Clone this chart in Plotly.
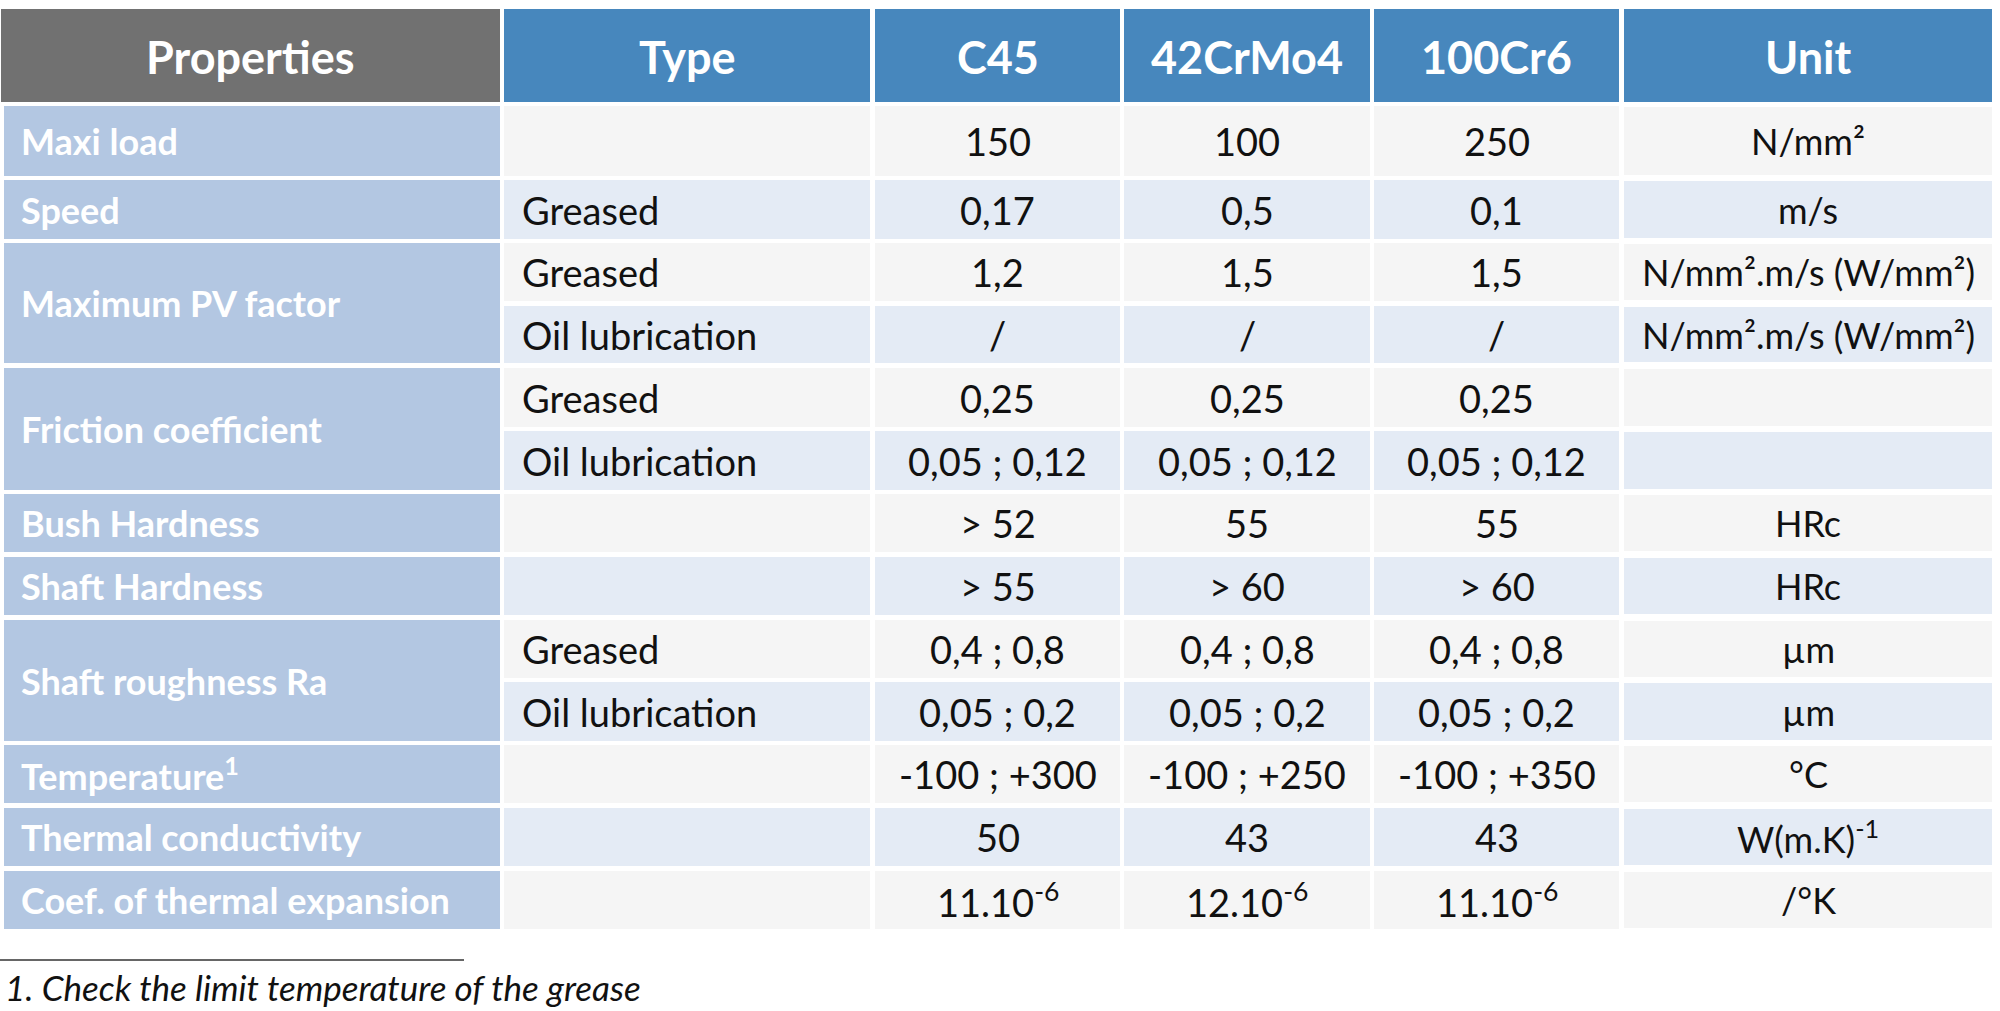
import plotly.graph_objects as go

# ---------------- data ----------------
headers = ["Properties", "Type", "C45", "42CrMo4", "100Cr6", "Unit"]
properties = ["Maxi load", "Speed", "Maximum PV factor", "Friction coefficient",
              "Bush Hardness", "Shaft Hardness", "Shaft roughness Ra",
              "Temperature<sup>1</sup>", "Thermal conductivity", "Coef. of thermal expansion"]
types = [[""], ["Greased"], ["Greased", "Oil lubrication"], ["Greased", "Oil lubrication"],
         [""], [""], ["Greased", "Oil lubrication"], [""], [""], [""]]
c45 = ["150", "0,17", "1,2", "/", "0,25", "0,05 ; 0,12", "> 52", "> 55",
       "0,4 ; 0,8", "0,05 ; 0,2", "-100 ; +300", "50", "11.10<sup>-6</sup>"]
crmo4 = ["100", "0,5", "1,5", "/", "0,25", "0,05 ; 0,12", "55", "> 60",
         "0,4 ; 0,8", "0,05 ; 0,2", "-100 ; +250", "43", "12.10<sup>-6</sup>"]
cr6 = ["250", "0,1", "1,5", "/", "0,25", "0,05 ; 0,12", "55", "> 60",
       "0,4 ; 0,8", "0,05 ; 0,2", "-100 ; +350", "43", "11.10<sup>-6</sup>"]
units = ["N/mm²", "m/s", "N/mm².m/s (W/mm²)", "N/mm².m/s (W/mm²)", "", "", "HRc", "HRc",
         "µm", "µm", "°C", "W(m.K)<sup>-1</sup>", "/°K"]
footnote = "1. Check the limit temperature of the grease"

# ---------------- layout geometry ----------------
W, H = 2000, 1011
col_edges = [(1, 500), (504, 870), (875, 1120), (1124, 1370), (1374, 1619), (1624, 1992)]
header_y = (9, 102)
row_edges = [(106, 176), (180, 239), (243, 301), (306, 363), (368, 427), (431, 490),
             (494, 552), (557, 615), (620, 678), (682, 741), (745, 803), (808, 866), (871, 929)]

FONT = "Lato"
C_HEAD_GRAY = "#717171"
C_HEAD_BLUE = "#4787BD"
C_PROP = "#B3C7E2"
C_ROW_A = "#F5F5F5"
C_ROW_B = "#E4EBF5"
C_TEXT = "#111111"

fig = go.Figure()
shapes = []
annotations = []


def rect(x0, x1, y0, y1, color):
    shapes.append(dict(type="rect", xref="x", yref="y", x0=x0, x1=x1, y0=y0, y1=y1,
                       fillcolor=color, line=dict(width=0), layer="below"))


def text(x, y, s, size, color, bold=False, anchor="center", style="normal"):
    annotations.append(dict(xref="x", yref="y", x=x, y=y, text=s,
                            showarrow=False, xanchor=anchor, yanchor="middle",
                            font=dict(family=FONT, size=size, color=color,
                                      weight="bold" if bold else "normal", style=style)))


# header
for i, h in enumerate(headers):
    x0, x1 = col_edges[i]
    rect(x0, x1, header_y[0], header_y[1], C_HEAD_GRAY if i == 0 else C_HEAD_BLUE)
    text((x0 + x1) / 2, (header_y[0] + header_y[1]) / 2 + 1, h, 45, "white", bold=True)

# body
sub = 0
for p, prop in enumerate(properties):
    n = len(types[p])
    top = row_edges[sub][0]
    bot = row_edges[sub + n - 1][1]
    x0, x1 = col_edges[0]
    rect(x0 + 3, x1, top, bot, C_PROP)
    text(x0 + 18, (top + bot) / 2, prop, 36, "white", bold=True, anchor="left")
    for k in range(n):
        r = sub + k
        y0, y1 = row_edges[r]
        color = C_ROW_A if r % 2 == 0 else C_ROW_B
        ym = (y0 + y1) / 2
        # type column
        tx0, tx1 = col_edges[1]
        rect(tx0, tx1, y0, y1, color)
        if types[p][k]:
            text(tx0 + 16, ym, types[p][k], 38, C_TEXT, anchor="left")
        for ci, vals in zip([2, 3, 4], [c45, crmo4, cr6]):
            cx0, cx1 = col_edges[ci]
            rect(cx0, cx1, y0, y1, color)
            text((cx0 + cx1) / 2, ym, vals[r], 38, C_TEXT)
        ux0, ux1 = col_edges[5]
        rect(ux0, ux1, y0 + 1, y1 - 1, color)
        if units[r]:
            text((ux0 + ux1) / 2, ym, units[r], 36, C_TEXT)
    sub += n

# footnote
shapes.append(dict(type="line", xref="x", yref="y", x0=0, x1=464, y0=960, y1=960,
                   line=dict(color="#333333", width=1.5)))
text(3, 987, footnote, 35, C_TEXT, anchor="left", style="italic")

fig.update_layout(
    width=W, height=H,
    margin=dict(l=0, r=0, t=0, b=0),
    paper_bgcolor="white", plot_bgcolor="white",
    xaxis=dict(range=[0, W], visible=False, fixedrange=True),
    yaxis=dict(range=[H, 0], visible=False, fixedrange=True),
    shapes=shapes, annotations=annotations,
    showlegend=False,
)
fig.write_html("out.html", config={"displayModeBar": False},
               post_script="document.body.style.margin='0';document.body.style.overflow='hidden';")
